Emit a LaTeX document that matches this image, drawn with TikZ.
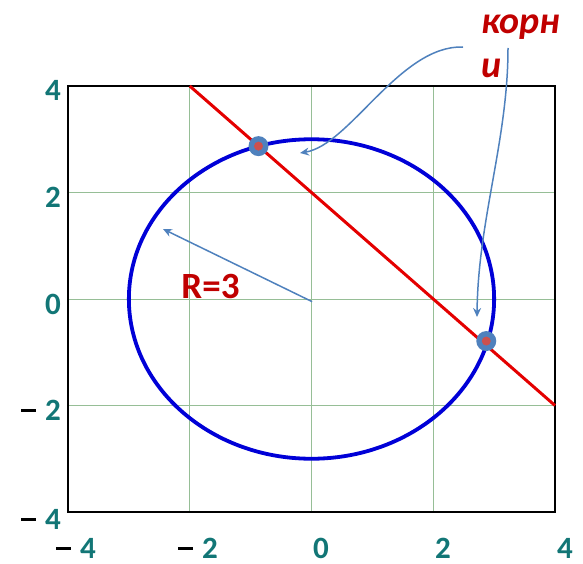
\documentclass[tikz,border=0pt]{standalone}
\usepackage{fontspec}
\setmainfont{Carlito}
\usetikzlibrary{arrows.meta}
\definecolor{tealtxt}{RGB}{18,118,118}
\definecolor{rootred}{RGB}{192,0,0}
\definecolor{gridgreen}{RGB}{150,190,150}
\definecolor{circblue}{RGB}{0,0,215}
\definecolor{linered}{RGB}{228,0,0}
\definecolor{callout}{RGB}{79,129,189}
\definecolor{dotred}{RGB}{205,80,77}
\tikzset{
  gridline/.style={draw=gridgreen, line width=1pt},
  frame/.style={draw=black, line width=1.8pt},
  circlepath/.style={draw=circblue, line width=3.8pt},
  rootline/.style={draw=linered, line width=3pt},
  calloutarrow/.style={draw=callout, line width=1.5pt, -{Stealth[length=9pt,width=8pt,inset=3pt]}},
  rootmark/.style={circle, fill=callout, minimum size=20pt, inner sep=0pt},
  rootcore/.style={circle, fill=dotred, minimum size=9pt, inner sep=0pt},
  ticklabel/.style={font=\fontsize{31}{31}\selectfont\bfseries, text=tealtxt, inner sep=0pt},
  redlabel/.style={font=\fontsize{37}{44}\selectfont\bfseries, text=rootred, inner sep=0pt},
}
\newcommand{\negnum}[1]{\textcolor{black}{\rule[8.5pt]{15pt}{2.4pt}}\hspace{9pt}#1}
\begin{document}
\begin{tikzpicture}[x=1pt,y=-1pt]
\useasboundingbox (0,0) rectangle (583,564);
\begin{scope}[shift={(311.5,299)}, x=60.875pt, y=53.25pt]
  % grid
  \foreach \g in {-2,0,2} {
    \draw[gridline] (\g,-4) -- (\g,4);
    \draw[gridline] (-4,\g) -- (4,\g);
  }
  \draw[frame] (-4,-4) rectangle (4,4);
  % circle and line
  \draw[circlepath] (0,0) circle [x radius=3, y radius=3];
  \draw[rootline] (-2,4) -- (4,-2);
  % roots
  \node[rootmark] (root1) at (-0.871,2.871) {};
  \node[rootcore] (root1c) at (root1) {};
  \node[rootmark] (root2) at (2.871,-0.79) {};
  \node[rootcore] (root2c) at (root2) {};
  \coordinate (origin) at (0.01,-0.05);
\end{scope}
% radius arrow
\coordinate (rtip) at (163,229);
\draw[calloutarrow] (origin) -- (rtip);
\node[redlabel, anchor=base] (rlabel) at (210.5,298) {R=3};
% roots label
\node[redlabel, font=\fontsize{38}{44}\selectfont\bfseries\itshape, align=left, anchor=north west] (rootstext) at (481,15) {корн\\и};
\coordinate (c1start) at (463,47);
\coordinate (c1tip) at (300,153);
\coordinate (c2start) at (508,48);
\coordinate (c2tip) at (477,317);
\draw[calloutarrow] (c1start) .. controls (400,45) and (350,145) .. (c1tip);
\draw[calloutarrow] (c2start) .. controls (508,140) and (478,220) .. (c2tip);
% y tick labels
\node[ticklabel, anchor=east] (y4) at (61,90) {4};
\node[ticklabel, anchor=east] (y2) at (61,197) {2};
\node[ticklabel, anchor=east] (y0) at (61,304) {0};
\node[ticklabel, anchor=east] (ym2) at (61,410) {\negnum{2}};
\node[ticklabel, anchor=east] (ym4) at (61,519) {\negnum{4}};
% x tick labels
\node[ticklabel] (xm4) at (76,548) {\negnum{4}};
\node[ticklabel] (xm2) at (198,548) {\negnum{2}};
\node[ticklabel] (x0) at (321,548) {0};
\node[ticklabel] (x2) at (443,548) {2};
\node[ticklabel] (x4) at (565,548) {4};
\end{tikzpicture}
\end{document}
